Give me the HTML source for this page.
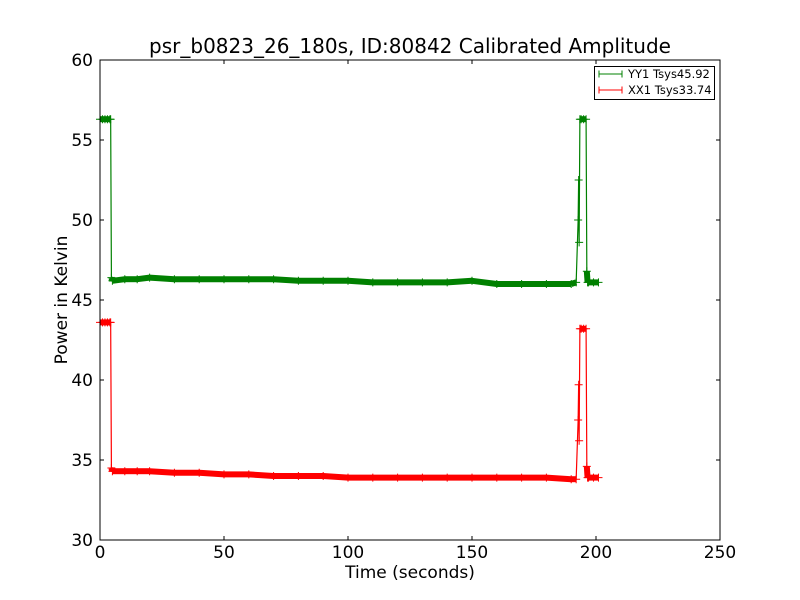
<!DOCTYPE html>
<html><head><meta charset="utf-8"><style>
body{margin:0;background:#fff}
svg{display:block;font-family:"DejaVu Sans","Liberation Sans",sans-serif}
</style></head><body>
<svg id="chart" width="800" height="600" viewBox="0 0 800 600">
<rect width="800" height="600" fill="#fff"/>
<text x="410" y="53" font-size="20" text-anchor="middle">psr_b0823_26_180s, ID:80842 Calibrated Amplitude</text>
<g id="series"></g>
<rect x="100" y="60" width="620" height="480" fill="none" stroke="#000" stroke-width="1"/>
<g id="axes"></g>
<text x="410" y="578" font-size="17" text-anchor="middle">Time (seconds)</text>
<text transform="translate(67,300) rotate(-90)" font-size="17" text-anchor="middle">Power in Kelvin</text>
<g>
<rect x="594.5" y="66.5" width="120" height="33" fill="#fff" stroke="#000"/>
<g>
<line x1="599" y1="74" x2="622" y2="74" stroke="#008000"/><line x1="599" y1="70.5" x2="599" y2="77.5" stroke="#008000"/><line x1="622" y1="70.5" x2="622" y2="77.5" stroke="#008000"/>
<text x="628" y="78" font-size="11.5">YY1 Tsys45.92</text></g>
<g>
<line x1="599" y1="90" x2="622" y2="90" stroke="#ff0000"/><line x1="599" y1="86.5" x2="599" y2="93.5" stroke="#ff0000"/><line x1="622" y1="86.5" x2="622" y2="93.5" stroke="#ff0000"/>
<text x="628" y="94" font-size="11.5">XX1 Tsys33.74</text></g>
</g>
</svg>
<script>
const xTicks=[0,50,100,150,200,250];
const yTicks=[30,35,40,45,50,55,60];
const greenT=[0,1,2,3,4,4.3,4.6,5,10,15,20,30,40,50,60,70,80,90,100,110,120,130,140,150,160,170,180,190,192,192.8,193,193.2,193.5,194,195,196,196.3,196.6,197,199,201];
const greenV=[56.3,56.3,56.3,56.3,56.3,56.3,46.4,46.2,46.3,46.3,46.4,46.3,46.3,46.3,46.3,46.3,46.2,46.2,46.2,46.1,46.1,46.1,46.1,46.2,46.0,46.0,46.0,46.0,46.1,50.0,52.5,48.6,56.3,56.3,56.3,56.3,46.8,46.1,46.1,46.1,46.1];
const redT=[0,1,2,3,4,4.3,4.6,5,10,15,20,30,40,50,60,70,80,90,100,110,120,130,140,150,160,170,180,190,192,192.8,193,193.2,193.5,194,195,196,196.3,196.6,197,199,201];
const redV=[43.6,43.6,43.6,43.6,43.6,43.6,34.5,34.3,34.3,34.3,34.3,34.2,34.2,34.1,34.1,34.0,34.0,34.0,33.9,33.9,33.9,33.9,33.9,33.9,33.9,33.9,33.9,33.8,33.8,37.5,39.7,36.2,43.2,43.2,43.2,43.2,34.6,33.9,33.9,33.9,33.9];
const X=t=>100+(t/250)*620, Y=v=>540-((v-30)/30)*480;
const NS='http://www.w3.org/2000/svg';
const axes=document.getElementById('axes'), series=document.getElementById('series');
function mk(tag,attrs,parent){const e=document.createElementNS(NS,tag);for(const k in attrs)e.setAttribute(k,attrs[k]);parent.appendChild(e);return e;}
xTicks.forEach(t=>{const x=X(t);
 const a=mk('line',{x1:x,y1:540,x2:x,y2:536,stroke:'#000'},axes);
 
 
 mk('line',{x1:x,y1:60,x2:x,y2:64,stroke:'#000'},axes);
 const l=mk('text',{x:x,y:558,'font-size':17,'text-anchor':'middle'},axes);l.textContent=t;
 
 });
yTicks.forEach(v=>{const y=Y(v);
 const a=mk('line',{x1:100,y1:y,x2:104,y2:y,stroke:'#000'},axes);
 
 
 mk('line',{x1:716,y1:y,x2:720,y2:y,stroke:'#000'},axes);
 const l=mk('text',{x:93,y:y+6,'font-size':17,'text-anchor':'end'},axes);l.textContent=v;
 
 });
function draw(T,V,color,name){
 const g=mk('g',{},series);
 
 
 for(let i=0;i<T.length-1;i++){
  if(Math.abs(V[i+1]-V[i])<1){
   const b=mk('line',{x1:X(T[i]),y1:Y(V[i]),x2:X(T[i+1]),y2:Y(V[i+1]),stroke:color,'stroke-width':6},g);
   
   
  }
 }
 const p=mk('polyline',{points:T.map((t,i)=>X(t)+','+Y(V[i])).join(' '),fill:'none',stroke:color,'stroke-width':1.2},g);
 
 
 T.forEach((t,i)=>{const x=X(t),y=Y(V[i]);
  const m=mk('path',{d:`M${x-4},${y}H${x+4}M${x},${y-4}V${y+4}`,stroke:color,'stroke-width':1},g);
  
  });
}
draw(greenT,greenV,'#008000','yy1-series');
draw(redT,redV,'#ff0000','xx1-series');
</script>
</body></html>
